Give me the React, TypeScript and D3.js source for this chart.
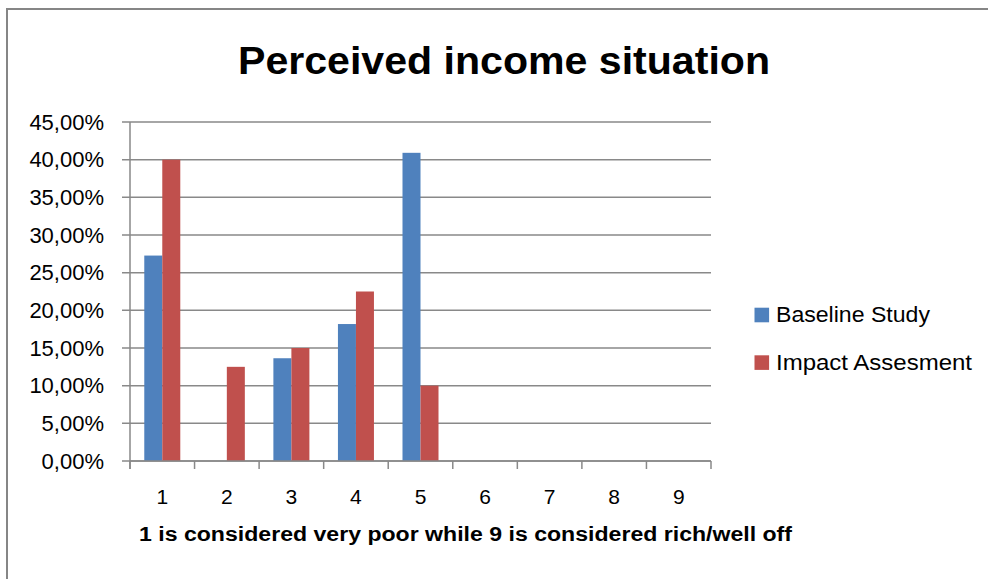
import React from "react";
import * as d3 from "d3";

const categories = ["1", "2", "3", "4", "5", "6", "7", "8", "9"];
const seriesNames = ["Baseline Study", "Impact Assesment"];
const baselineValues = [0.2727, 0, 0.1364, 0.1818, 0.4091, 0, 0, 0, 0];
const impactValues = [0.4, 0.125, 0.15, 0.225, 0.1, 0, 0, 0, 0];
const yTicks = [0, 0.05, 0.1, 0.15, 0.2, 0.25, 0.3, 0.35, 0.4, 0.45];
const colors = ["#4F81BD", "#C0504D"];
const titleText = "Perceived income situation";
const xAxisTitle = "1 is considered very poor while 9 is considered rich/well off";

const W = 988;
const H = 579;
const plot = { left: 130, right: 711, top: 122, bottom: 461 };
const FONT = "'Liberation Sans', Arial, sans-serif";
const GRID = "#898989";

const locale = d3.formatLocale({ decimal: ",", thousands: ".", grouping: [3], currency: ["", "€"] });
const fmt = locale.format(".2%");

export default function App() {
  const x = d3.scaleBand<string>().domain(categories).range([plot.left, plot.right]).paddingInner(0).paddingOuter(0);
  const xs = d3.scaleBand<string>().domain(seriesNames).range([0, x.bandwidth()]).paddingInner(0).paddingOuter(0.793);
  const y = d3.scaleLinear().domain([0, 0.45]).range([plot.bottom, plot.top]);
  const series = [baselineValues, impactValues];
  const tickXs = categories.map((c) => x(c) as number).concat([plot.right]);

  return (
    <svg width={W} height={H} style={{ position: "absolute", left: 0, top: 0, background: "#fff" }} fontFamily={FONT}>
      <rect x={0} y={0} width={W} height={H} fill="#fff" />
      {/* outer chart border */}
      <path d={`M7,${H + 5} L7,9 L${W + 5},9`} fill="none" stroke="#868686" strokeWidth={2} />
      <text x={504} y={74} textAnchor="middle" fontSize={39} fontWeight="bold" textLength={532} lengthAdjust="spacingAndGlyphs" fill="#000">
        {titleText}
      </text>
      {/* gridlines */}
      {yTicks.map((t) => (
        <line key={"g" + t} x1={plot.left - 8} x2={plot.right} y1={y(t)} y2={y(t)} stroke={GRID} strokeWidth={1.5} />
      ))}
      {/* y axis line */}
      <line x1={plot.left} x2={plot.left} y1={plot.top} y2={plot.bottom + 8} stroke={GRID} strokeWidth={1.5} />
      {/* y tick labels */}
      {yTicks.map((t) => (
        <text key={"yl" + t} x={104} y={y(t) + 7.8} textAnchor="end" fontSize={22} fill="#000">
          {fmt(t)}
        </text>
      ))}
      {/* bars */}
      {series.map((vals, si) =>
        vals.map((v, ci) =>
          v > 0 ? (
            <rect
              key={`b${si}-${ci}`}
              x={(x(categories[ci]) as number) + (xs(seriesNames[si]) as number)}
              y={y(v)}
              width={xs.bandwidth()}
              height={y(0) - y(v)}
              fill={colors[si]}
            />
          ) : null
        )
      )}
      {/* x axis line */}
      <line x1={plot.left} x2={plot.right} y1={plot.bottom} y2={plot.bottom} stroke={GRID} strokeWidth={1.5} />
      {tickXs.map((tx, i) => (
        <line key={"xt" + i} x1={tx} x2={tx} y1={plot.bottom} y2={plot.bottom + 8} stroke={GRID} strokeWidth={1.5} />
      ))}
      {categories.map((c) => (
        <text key={"xl" + c} x={(x(c) as number) + x.bandwidth() / 2} y={504} textAnchor="middle" fontSize={21} fill="#000">
          {c}
        </text>
      ))}
      <text x={465.5} y={541} textAnchor="middle" fontSize={19.5} fontWeight="bold" textLength={653} lengthAdjust="spacingAndGlyphs" fill="#000">
        {xAxisTitle}
      </text>
      {/* legend */}
      {seriesNames.map((s, i) => (
        <g key={"lg" + s} transform={`translate(754.5, ${307.7 + i * 47.6})`}>
          <rect x={0} y={0} width={14.6} height={14.6} fill={colors[i]} />
          <text x={21.5} y={14.6} fontSize={22} fill="#000" textLength={i === 0 ? 154 : 196} lengthAdjust="spacingAndGlyphs">
            {s}
          </text>
        </g>
      ))}
    </svg>
  );
}
